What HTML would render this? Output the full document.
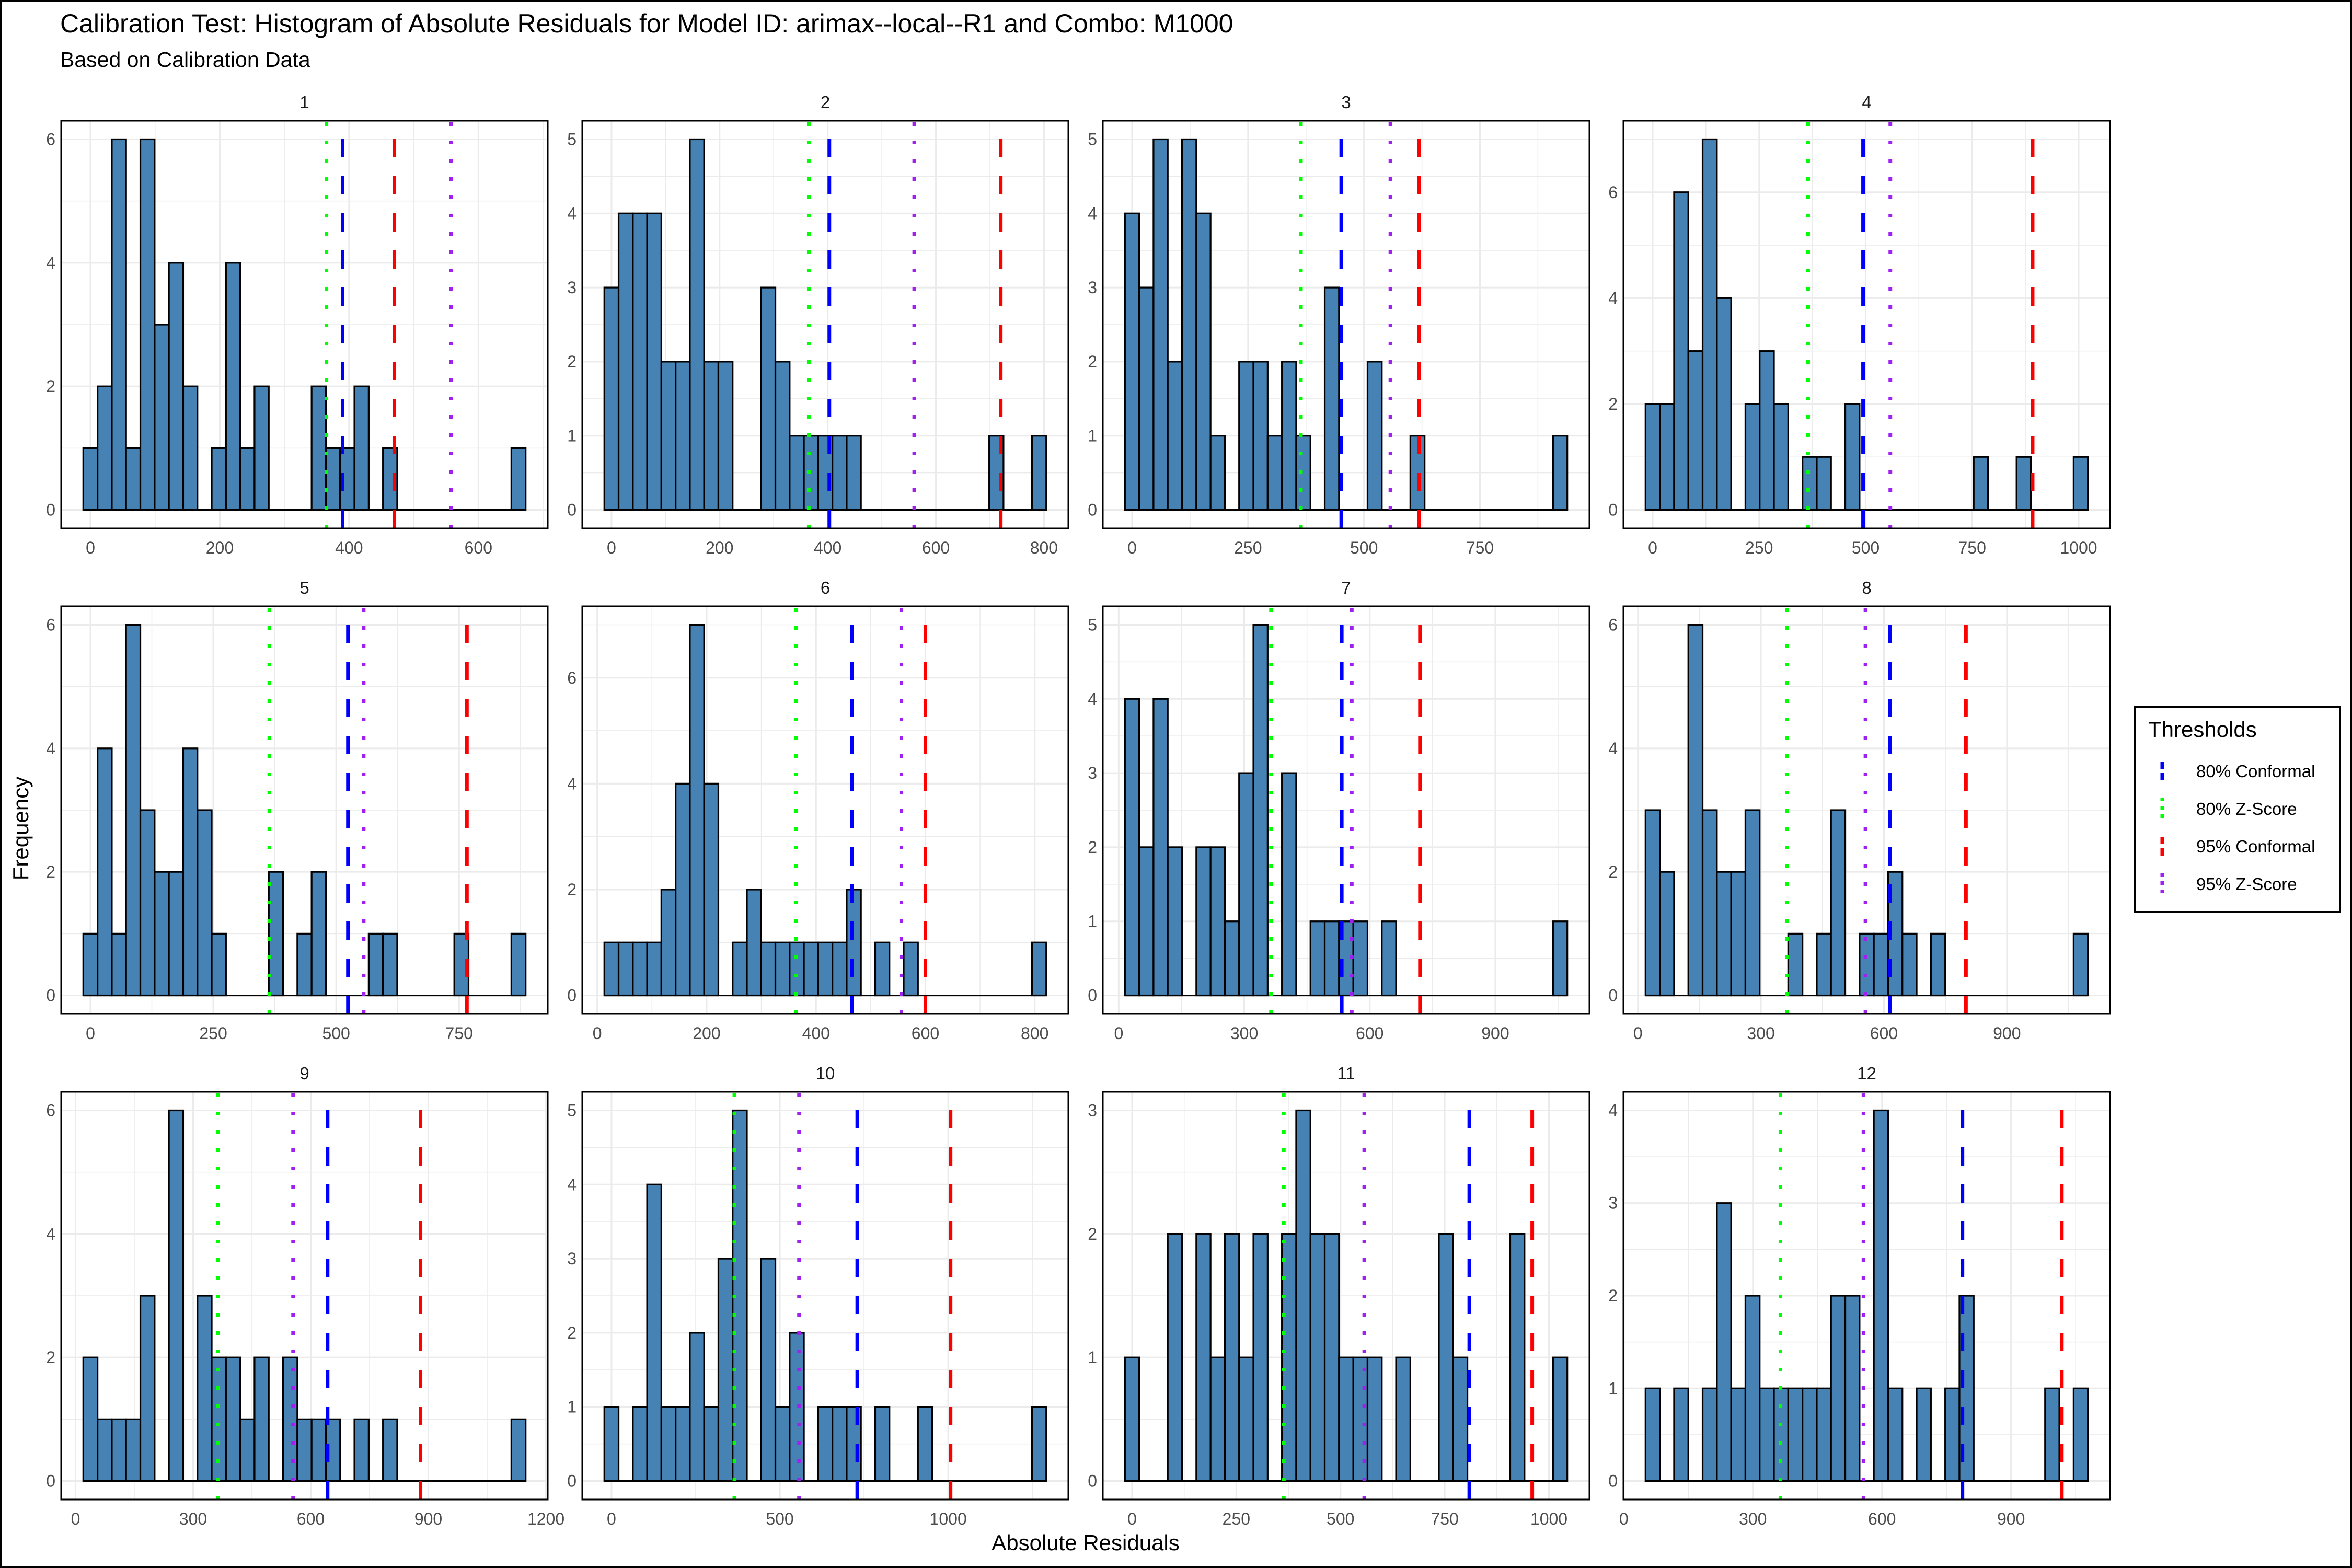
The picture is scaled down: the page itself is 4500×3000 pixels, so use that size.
<!DOCTYPE html>
<html><head><meta charset="utf-8"><style>
html,body{margin:0;padding:0;background:#fff;}
svg{display:block;font-family:"Liberation Sans",Arial,sans-serif;}
</style></head><body>
<svg id="chart" width="4500" height="3000" viewBox="0 0 4500 3000" xmlns="http://www.w3.org/2000/svg">
<rect x="0" y="0" width="4500" height="3000" fill="#fff"/>
<rect x="1.5" y="1.5" width="4497" height="2997" fill="none" stroke="#000" stroke-width="3"/>
<text x="115" y="62" font-size="50" fill="#000">Calibration Test: Histogram of Absolute Residuals for Model ID: arimax--local--R1 and Combo: M1000</text>
<text x="115" y="128" font-size="41" fill="#000">Based on Calibration Data</text>
<text x="2077" y="2966" font-size="42" text-anchor="middle" fill="#000">Absolute Residuals</text>
<text x="0" y="0" font-size="42" text-anchor="middle" fill="#000" transform="translate(54,1585) rotate(-90)">Frequency</text>
<g id="panels"></g>
<g id="legend">
<rect x="4085" y="1352" width="392" height="393" fill="#fff" stroke="#000" stroke-width="4"/>
<text x="4110" y="1410" font-size="42" fill="#000">Thresholds</text>
</g>
</svg>
<script>
const panelIds = ["1","2","3","4","5","6","7","8","9","10","11","12"];
const counts1 = [1,2,6,1,6,3,4,2,0,1,4,1,2,0,0,0,2,1,1,2,0,1,0,0,0,0,0,0,0,0,1];
const counts2 = [3,4,4,4,2,2,5,2,2,0,0,3,2,1,1,1,1,1,0,0,0,0,0,0,0,0,0,1,0,0,1];
const counts3 = [4,3,5,2,5,4,1,0,2,2,1,2,1,0,3,0,0,2,0,0,1,0,0,0,0,0,0,0,0,0,1];
const counts4 = [2,2,6,3,7,4,0,2,3,2,0,1,1,0,2,0,0,0,0,0,0,0,0,1,0,0,1,0,0,0,1];
const counts5 = [1,4,1,6,3,2,2,4,3,1,0,0,0,2,0,1,2,0,0,0,1,1,0,0,0,0,1,0,0,0,1];
const counts6 = [1,1,1,1,2,4,7,4,0,1,2,1,1,1,1,1,1,2,0,1,0,1,0,0,0,0,0,0,0,0,1];
const counts7 = [4,2,4,2,0,2,2,1,3,5,0,3,0,1,1,1,1,0,1,0,0,0,0,0,0,0,0,0,0,0,1];
const counts8 = [3,2,0,6,3,2,2,3,0,0,1,0,1,3,0,1,1,2,1,0,1,0,0,0,0,0,0,0,0,0,1];
const counts9 = [2,1,1,1,3,0,6,0,3,2,2,1,2,0,2,1,1,1,0,1,0,1,0,0,0,0,0,0,0,0,1];
const counts10 = [1,0,1,4,1,1,2,1,3,5,0,3,1,2,0,1,1,1,0,1,0,0,1,0,0,0,0,0,0,0,1];
const counts11 = [1,0,0,2,0,2,1,2,1,2,0,2,3,2,2,1,1,1,0,1,0,0,2,1,0,0,0,2,0,0,1];
const counts12 = [1,0,1,0,1,3,1,2,1,1,1,1,1,2,2,0,4,1,0,1,0,1,2,0,0,0,0,0,1,0,1];
const allCounts = [counts1,counts2,counts3,counts4,counts5,counts6,counts7,counts8,counts9,counts10,counts11,counts12];
const firstBinCenter = [0,0,0,0,0,26,32,36,38,0,0,67];
const lastBinCenter = [662,791,923,1005,871,808,1055,1080,1130,1270,1027,1062];
const conformal80 = [390,403,451,494,524,466,533,615,643,730,809,787];
const zscore80 = [365,365,364,365,364,363,364,363,364,365,364,364];
const conformal95 = [470,720,619,892,766,600,720,800,880,1007,960,1018];
const zscore95 = [558,560,557,558,556,556,557,555,555,557,557,557];
const xTicks = [[0,200,400,600],[0,200,400,600,800],[0,250,500,750],[0,250,500,750,1000],[0,250,500,750],[0,200,400,600,800],[0,300,600,900],[0,300,600,900],[0,300,600,900,1200],[0,500,1000],[0,250,500,750,1000],[0,300,600,900]];
const legendLabels = ["80% Conformal","80% Z-Score","95% Conformal","95% Z-Score"];

const NS = "http://www.w3.org/2000/svg";
const colLeft = [117,1114,2110,3106], colRight = [1048,2044,3041,4037];
const rowTop = [231,1160,2089], rowBottom = [1011,1940,2869];
const styles = [
  {color:"#0000FF", dash:"35 36"},
  {color:"#00FF00", dash:"7 28"},
  {color:"#FF0000", dash:"35 36"},
  {color:"#A020F0", dash:"7 28"}
];
function mk(tag, attrs, parent){const e=document.createElementNS(NS,tag);for(const k in attrs)e.setAttribute(k,attrs[k]);parent.appendChild(e);return e;}
const root = document.getElementById("panels");
panelIds.forEach((pid,i)=>{
  const counts = allCounts[i];
  const n = counts.length;
  const w = (lastBinCenter[i]-firstBinCenter[i])/(n-1);
  const lines = [conformal80[i],zscore80[i],conformal95[i],zscore95[i]];
  let lo = firstBinCenter[i]-w/2, hi = lastBinCenter[i]+w/2;
  lines.forEach(v=>{lo=Math.min(lo,v);hi=Math.max(hi,v);});
  const pad=(hi-lo)*0.05; lo-=pad; hi+=pad;
  const ymax = Math.max(...counts);
  const ylo = -0.05*ymax, yhi = 1.05*ymax;
  const L=colLeft[i%4], R=colRight[i%4], T=rowTop[Math.floor(i/4)], B=rowBottom[Math.floor(i/4)];
  const sx = v => L+(v-lo)/(hi-lo)*(R-L);
  const sy = v => B-(v-ylo)/(yhi-ylo)*(B-T);
  const g = mk("g",{},root);
  
  
  const strip = mk("text",{x:(L+R)/2,y:T-24,"font-size":33,"text-anchor":"middle",fill:"#1A1A1A"},g);
  strip.textContent = pid;
  
  
  const grid = mk("g",{},g);
  
  
  const xt = xTicks[i]; const xstep = xt[1]-xt[0];
  for(let v=xt[0]-xstep/2; v<=hi; v+=xstep/2){
    if(v<lo) continue;
    const major = xt.includes(Math.round(v*1000)/1000);
    mk("line",{x1:sx(v),x2:sx(v),y1:T,y2:B,stroke:"#EBEBEB","stroke-width":major?3:1.5},grid);
  }
  const ystep = ymax>5?2:1;
  for(let v=0; v<=yhi; v+=ystep/2){
    const major = Math.abs(v/ystep-Math.round(v/ystep))<1e-6;
    mk("line",{x1:L,x2:R,y1:sy(v),y2:sy(v),stroke:"#EBEBEB","stroke-width":major?3:1.5},grid);
    if(major){
      const t = mk("text",{x:L-11,y:sy(v)+11,"font-size":32,"text-anchor":"end",fill:"#4D4D4D"},g);
      t.textContent = v;
      
      
    }
  }
  xt.forEach(v=>{
    if(v<lo||v>hi) return;
    const t = mk("text",{x:sx(v),y:B+48,"font-size":32,"text-anchor":"middle",fill:"#4D4D4D"},g);
    t.textContent = v;
    
    
  });
  const base = mk("line",{x1:sx(firstBinCenter[i]-w/2),x2:sx(lastBinCenter[i]+w/2),y1:sy(0),y2:sy(0),stroke:"#000","stroke-width":3.2},g);
  
  
  counts.forEach((c,k)=>{
    if(c<=0) return;
    const c0 = firstBinCenter[i]+k*w;
    const x0 = sx(c0-w/2), x1 = sx(c0+w/2);
    const r = mk("rect",{x:x0,y:sy(c),width:x1-x0,height:sy(0)-sy(c),fill:"#4682B4",stroke:"#000","stroke-width":3.2},g);
    
    
  });
  lines.forEach((v,k)=>{
    const l = mk("line",{x1:sx(v),x2:sx(v),y1:B,y2:T,stroke:styles[k].color,"stroke-width":7,"stroke-dasharray":styles[k].dash},g);
    
    
  });
  const border = mk("rect",{x:L,y:T,width:R-L,height:B-T,fill:"none",stroke:"#000","stroke-width":3},g);
  
  
});
const lg = document.getElementById("legend");
legendLabels.forEach((lab,k)=>{
  const y = 1475+k*72;
  const e = mk("g",{},lg);
  
  
  mk("line",{x1:4137,x2:4137,y1:y+18,y2:y-22,stroke:styles[k].color,"stroke-width":7,"stroke-dasharray":k%2?"7 9":"14 8"},e);
  const t = mk("text",{x:4202,y:y+12,"font-size":33,fill:"#000"},e);
  t.textContent = lab;
  
  
});
</script>
</body></html>
